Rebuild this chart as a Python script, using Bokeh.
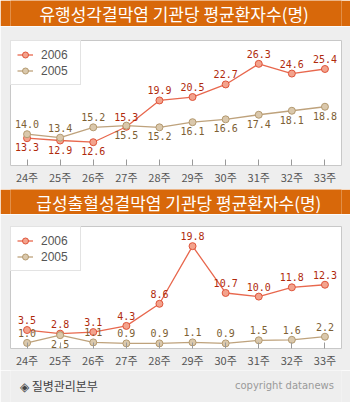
from bokeh.plotting import figure
from bokeh.models import ColumnDataSource, Label, FactorRange, Range1d, Legend, LegendItem
from bokeh.layouts import column
from bokeh.embed import file_html
from bokeh.resources import INLINE
from bokeh.core.properties import value

# ---------------- data ----------------
weeks = ["24주", "25주", "26주", "27주", "28주", "29주", "30주", "31주", "32주", "33주"]
series_names = ["2006", "2005"]

title1 = "유행성각결막염 기관당 평균환자수(명)"
c1_2006 = [13.3, 12.9, 12.6, 15.3, 19.9, 20.5, 22.7, 26.3, 24.6, 25.4]
c1_2005 = [14.0, 13.4, 15.2, 15.5, 15.2, 16.1, 16.6, 17.4, 18.1, 18.8]

title2 = "급성출혈성결막염 기관당 평균환자수(명)"
c2_2006 = [3.5, 2.8, 3.1, 4.3, 8.6, 19.8, 10.7, 10.0, 11.8, 12.3]
c2_2005 = [1.0, 2.5, 1.1, 0.9, 0.9, 1.1, 0.9, 1.5, 1.6, 2.2]

source_text = "◈ 질병관리본부"
copyright_text = "copyright datanews"

# label placement (which value labels sit below their point)
c1_below_2006 = ["24주", "25주", "26주"]
c1_below_2005 = ["27주", "28주", "29주", "30주", "31주", "32주", "33주"]
c2_below_2006 = []
c2_below_2005 = ["25주"]

# ---------------- styles ----------------
BG = "#eeeeee"
ORANGE = "#d8680a"
RED_LINE = "#e8684e"
RED_FILL = "#f3a38d"
RED_EDGE = "#df543a"
RED_TEXT = "#b02a0c"
TAN_LINE = "#bea27c"
TAN_FILL = "#dac8ac"
TAN_EDGE = "#b49a70"
TAN_TEXT = "#7d6034"
FRAME = "#c8c8c8"
MONO = value("DejaVu Sans Mono")


def title_bar(text, height, cx, cy):
    p = figure(width=350, height=height, output_backend="svg", toolbar_location=None,
               x_range=Range1d(0, 350), y_range=Range1d(0, height),
               x_axis_location=None, y_axis_location=None, min_border=0,
               background_fill_color=ORANGE, border_fill_color=ORANGE,
               outline_line_color=None)
    p.xgrid.visible = False
    p.ygrid.visible = False
    p.add_layout(Label(x=cx, y=height - cy, text=text, text_align="center",
                       text_baseline="middle", text_color="white",
                       text_font="Noto Sans CJK KR", text_font_size="17px"))
    return p


def chart(v06, v05, yr, height, top, bottom, below06, below05):
    p = figure(x_range=FactorRange(*weeks, range_padding=0), y_range=Range1d(*yr),
               width=350, height=height, output_backend="svg", toolbar_location=None,
               y_axis_location=None, min_border_top=top, min_border_bottom=bottom,
               min_border_left=10, min_border_right=9,
               background_fill_color="white", border_fill_color=BG,
               outline_line_color=FRAME, outline_line_width=1)
    p.xgrid.visible = False
    p.ygrid.visible = False
    ax = p.xaxis[0]
    ax.axis_line_color = None
    ax.major_tick_in = 6
    ax.major_tick_out = 0
    ax.major_tick_line_color = "#9a9a9a"
    ax.major_label_standoff = 3
    ax.major_label_text_font = "Noto Sans CJK KR"
    ax.major_label_text_font_size = "11px"
    ax.major_label_text_color = "#555555"

    specs = [
        (series_names[0], v06, below06, RED_LINE, RED_FILL, RED_EDGE, RED_TEXT),
        (series_names[1], v05, below05, TAN_LINE, TAN_FILL, TAN_EDGE, TAN_TEXT),
    ]
    text_sets = []
    items = []
    for name, vals, below, lc, fc, ec, tc in specs:
        src = ColumnDataSource(dict(
            x=weeks, y=vals,
            t=[f"{v:.1f}" for v in vals],
            dy=[9 if w in below else -10 for w in weeks],
        ))
        p.line("x", "y", source=src, line_color=lc, line_width=1.3)
        p.scatter("x", "y", source=src, size=7, fill_color=fc, line_color=ec, line_width=1)
        # legend swatches (larger marker, as in the original key)
        kl = p.line("x", "y", source=src, line_color=lc, line_width=1.3, visible=False)
        ks = p.scatter("x", "y", source=src, size=10, fill_color=fc, line_color=ec,
                       line_width=1, visible=False)
        items.append(LegendItem(label=name, renderers=[kl, ks]))
        text_sets.append((src, tc))
    for src, tc in text_sets:
        p.text("x", "y", text="t", source=src, y_offset="dy", text_align="center",
               text_baseline="middle", text_color=tc, text_font=MONO,
               text_font_size="10px")

    lg = Legend(items=items, location="top_left", margin=0, padding=6, spacing=1,
                glyph_width=16, glyph_height=15, label_height=15, label_width=33,
                label_standoff=8, border_line_color=FRAME, border_line_width=1,
                background_fill_color="white", background_fill_alpha=1,
                inactive_fill_alpha=0, label_text_font="Liberation Sans",
                label_text_font_size="12px", label_text_color="#555555",
                click_policy="none")
    p.add_layout(lg, "center")
    return p


t1 = title_bar(title1, 26, 173, 13)
p1 = chart(c1_2006, c1_2005, (8.53, 30.38), 163, 14, 24, c1_below_2006, c1_below_2005)
t2 = title_bar(title2, 25, 178, 12.5)
p2 = chart(c2_2006, c2_2005, (-0.09, 23.62), 156, 12, 20, c2_below_2006, c2_below_2005)

foot = figure(width=350, height=32, output_backend="svg", toolbar_location=None,
              x_range=Range1d(0, 350), y_range=Range1d(0, 32),
              x_axis_location=None, y_axis_location=None, min_border=0,
              background_fill_color=BG, border_fill_color=BG, outline_line_color=None)
foot.xgrid.visible = False
foot.ygrid.visible = False
foot.add_layout(Label(x=10, y=17, text=source_text, text_align="left",
                      text_baseline="middle", text_color="#444444",
                      text_font="Noto Sans CJK KR", text_font_size="12px"))
foot.add_layout(Label(x=342, y=17, text=copyright_text, text_align="right",
                      text_baseline="middle", text_color="#9a9a9a",
                      text_font="DejaVu Sans", text_font_size="10px"))

layout = column(t1, p1, t2, p2, foot, spacing=0)
open("out.html", "w").write(file_html(layout, INLINE))
